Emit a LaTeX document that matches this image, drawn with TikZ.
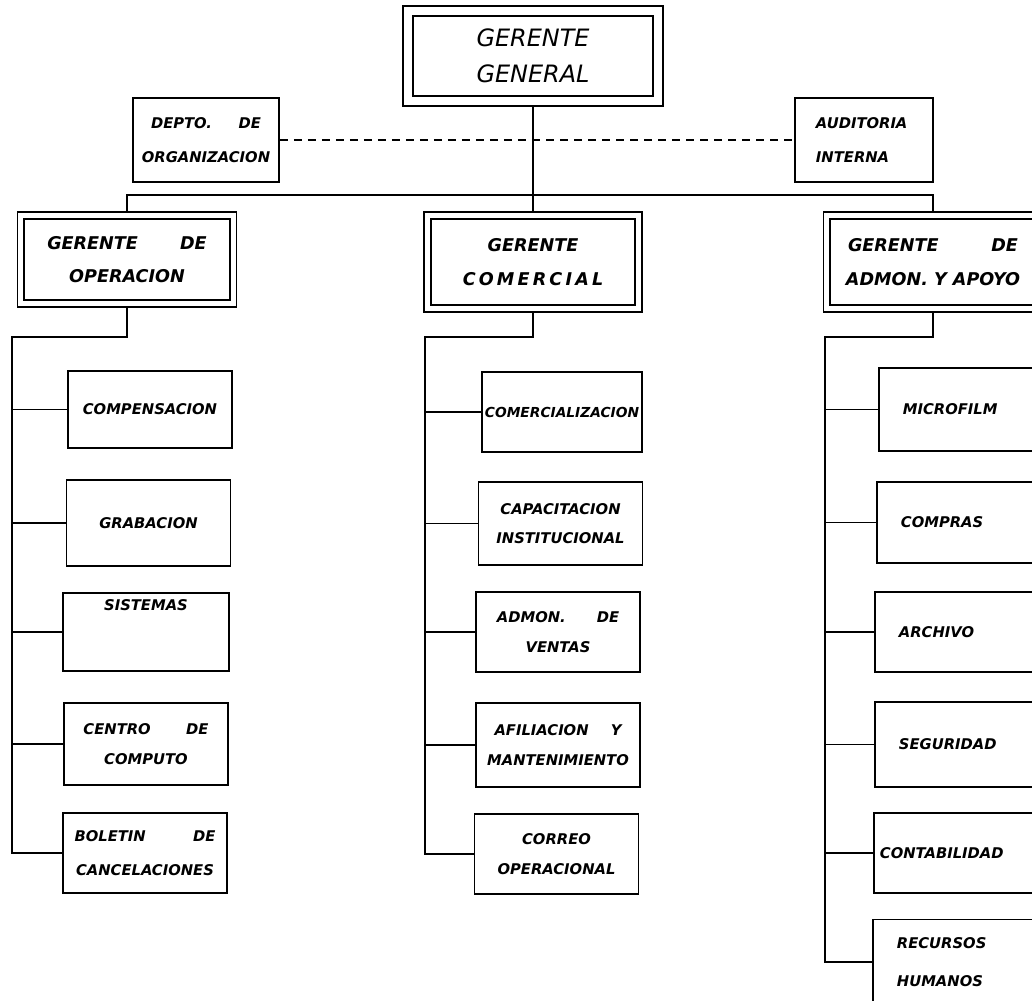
\documentclass[tikz,border=0pt]{standalone}
\usepackage{fontspec}
\setmainfont{DejaVu Sans}[BoldFont={DejaVu Sans Bold},ItalicFont={DejaVu Sans Oblique},BoldItalicFont={DejaVu Sans Bold Oblique}]
\usetikzlibrary{backgrounds}
\newcommand{\ggfont}{\itshape\fontsize{17}{26}\selectfont}
\newcommand{\jefefont}{\bfseries\itshape\fontsize{12.5}{24}\selectfont}
\newcommand{\cajafont}{\bfseries\itshape\fontsize{10.5}{21}\selectfont}

\begin{document}
\begin{tikzpicture}[x=0.025cm,y=-0.025cm,
  caja/.style={draw,line width=1.3pt,font=\cajafont,align=center,inner sep=2pt},
  jefe/.style={caja,double,double distance=0.125cm,font=\jefefont},
  dcha/.style={caja,anchor=west,minimum width=4.5cm,text width=3.3cm,align=left},
  linea/.style={line width=1.3pt}]
\useasboundingbox (0,0) rectangle (1032,1000);

\node[jefe,double distance=0.2cm,font=\ggfont,minimum width=6.25cm,minimum height=2.25cm] (gg) at (533,56) {GERENTE\\GENERAL};
\node[caja,minimum width=3.65cm,minimum height=2.1cm] (dep) at (206,140) {DEPTO.\hspace{1.8em}DE\\[3pt]ORGANIZACION};
\node[caja,align=left,text width=2.4cm,minimum width=3.45cm,minimum height=2.1cm] (aud) at (864,140) {AUDITORIA\\[3pt]INTERNA};

\node[jefe,minimum width=5.3cm,minimum height=2.2cm] (op) at (127,259.5) {GERENTE\hspace{2.4em}DE\\OPERACION};
\node[jefe,minimum width=5.28cm,minimum height=2.33cm] (cg) at (533,262) {GERENTE\\\addfontfeature{LetterSpace=18}COMERCIAL};
\node[jefe,minimum width=5.3cm,minimum height=2.33cm] (ad) at (933,262) {GERENTE\hspace{3em}DE\\ADMON.\ Y APOYO};

\foreach \n/\x/\y/\h/\t in {comp/150/409.5/77/{COMPENSACION},grab/148.5/523/86/{GRABACION},
    cent/146/744/82/{CENTRO\hspace{2.4em}DE\\COMPUTO},bol/145/853/80/{BOLETIN\hspace{3.2em}DE\\[3pt]CANCELACIONES},
    capi/560.5/523.5/83/{CAPACITACION\\INSTITUCIONAL},vent/558/632/80/{ADMON.\hspace{2.1em}DE\\VENTAS},
    afil/558/745/84/{AFILIACION\hspace{1.5em}Y\\MANTENIMIENTO},corr/556.5/854/80/{CORREO\\OPERACIONAL}}
  \node[caja,minimum width=4.1cm,minimum height=\h*0.025cm] (\n) at (\x,\y) {\t};
\node[caja,minimum width=4.15cm,minimum height=1.95cm,text depth=1.35cm] (sist) at (146,632) {SISTEMAS};
\node[caja,minimum width=4.0cm,minimum height=2.0cm,font=\bfseries\itshape\fontsize{9.8}{20}\selectfont] (comz) at (562,412) {COMERCIALIZACION};

\foreach \n/\x/\y/\h/\t in {micr/878/409.5/83/{MICROFILM},comq/876/522.5/81/{COMPRAS},arch/874/632/80/{ARCHIVO},
    segu/874/744.5/85/{SEGURIDAD},recu/872/962/85/{RECURSOS\\[6pt]HUMANOS}}
  \node[dcha,minimum height=\h*0.025cm] (\n) at (\x,\y) {\t};
\node[dcha,text width=4.2cm,minimum height=2.0cm] (cont) at (873,853) {CONTABILIDAD};

\coordinate (bus) at (533,195);
\coordinate (opk) at (12,337);
\coordinate (cgk) at (425,337);
\coordinate (adk) at (825,337);

\begin{pgfonlayer}{background}
\begin{scope}[linea]
\draw (gg) -- (cg);
\draw[dash pattern=on 0.2cm off 0.15cm] (dep) -- (aud);
\draw (op.north) |- (bus) -| (ad.north);
\draw (op.south) |- (opk) |- (bol.west);
\foreach \n in {comp,grab,sist,cent} \draw (opk |- \n.west) -- (\n.west);
\draw (cg.south) |- (cgk) |- (corr.west);
\foreach \n in {comz,capi,vent,afil} \draw (cgk |- \n.west) -- (\n.west);
\draw (ad.south) |- (adk) |- (recu.west);
\foreach \n in {micr,comq,arch,segu,cont} \draw (adk |- \n.west) -- (\n.west);
\end{scope}
\end{pgfonlayer}
\end{tikzpicture}
\end{document}
